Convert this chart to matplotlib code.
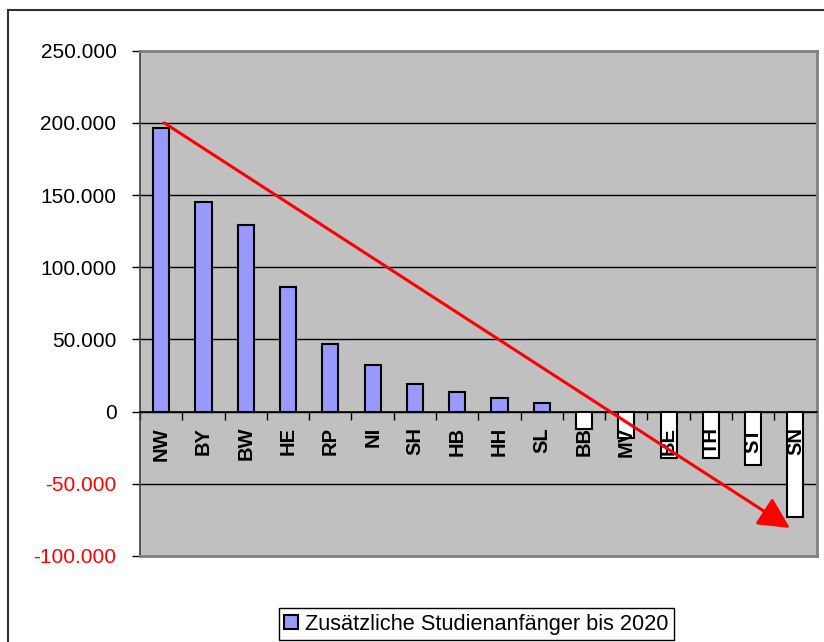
import matplotlib.pyplot as plt
import matplotlib.ticker as mticker
import numpy as np

plt.rcParams['font.family'] = ['Liberation Sans', 'DejaVu Sans']

# Zusätzliche Studienanfänger bis 2020 je Bundesland
laender = ["NW", "BY", "BW", "HE", "RP", "NI", "SH", "HB", "HH", "SL",
           "BB", "MV", "BE", "TH", "ST", "SN"]
anfaenger = [196500, 145500, 129000, 86000, 47000, 32000, 19400, 13900, 9700, 5800,
             -12300, -18100, -31900, -31900, -37200, -73100]
y_ticks = [-100000, -50000, 0, 50000, 100000, 150000, 200000, 250000]
legend_label = "Zusätzliche Studienanfänger bis 2020"

x = np.arange(len(laender))
colors = ["#9999FF" if v > 0 else "white" for v in anfaenger]

fig = plt.figure(figsize=(8.24, 6.42), dpi=100)
ax = fig.add_axes([0.170, 0.134, 0.821, 0.787])
ax.set_facecolor("#C0C0C0")

bars = ax.bar(x, anfaenger, width=0.38, color=colors, edgecolor="black",
              linewidth=1.5, zorder=2)
ax.set_axisbelow(True)
ax.yaxis.grid(True, color="black", linewidth=1)

ax.set_xlim(-0.5, len(laender) - 0.5)
ax.set_ylim(-100000, 250000)
ax.set_yticks(y_ticks)
ax.yaxis.set_major_formatter(
    mticker.FuncFormatter(lambda v, p: "{:,.0f}".format(v).replace(",", ".")))
ax.tick_params(axis="y", labelsize=15, length=6, width=1, pad=11, direction="out")
for lab, v in zip(ax.get_yticklabels(), y_ticks):
    if v < 0:
        lab.set_color("red")

# category axis at zero with ticks between categories
ax.spines["bottom"].set_position(("data", 0))
ax.spines["bottom"].set_linewidth(1.2)
ax.set_xticks([])
ax.set_xticks(np.arange(len(laender) + 1) - 0.5, minor=True)
ax.tick_params(axis="x", which="minor", length=6, width=1, direction="out")
for i, name in enumerate(laender):
    ax.annotate(name, xy=(x[i], 0), xytext=(0, -11), textcoords="offset points",
                rotation=90, ha="center", va="top", fontsize=14.5,
                fontweight="bold", zorder=5)

ax.spines["left"].set_color("#404040")
ax.spines["left"].set_linewidth(1.2)
for s in ["top", "right"]:
    ax.spines[s].set_color("#808080")
    ax.spines[s].set_linewidth(2)

# plot area bottom border
ax.plot([0, 1], [0, 0], transform=ax.transAxes, color="#808080", lw=2,
        clip_on=False, zorder=3)

# trend arrow
ax.annotate("", xy=(14.87, -80600), xytext=(0.07, 200000),
            arrowprops=dict(arrowstyle="-|>,head_length=0.95,head_width=0.48",
                            color="red", lw=2.2, mutation_scale=20,
                            shrinkA=0, shrinkB=0),
            zorder=6)

leg = fig.legend([bars[0]], [legend_label], loc="center",
                 bbox_to_anchor=(0.578, 0.028), fontsize=15.7, fancybox=False,
                 edgecolor="black", framealpha=1, handlelength=0.65,
                 handleheight=0.65, handletextpad=0.3, borderpad=0.25)
leg.get_frame().set_linewidth(1)

# outer chart border (left and top visible)
fig.add_artist(plt.Line2D([0.0097, 0.0097], [0.0, 0.9844], color="#303030", lw=1.5))
fig.add_artist(plt.Line2D([0.0097, 1.0], [0.9844, 0.9844], color="#303030", lw=1.5))

fig.savefig("out.png", dpi=100)
plt.close()
